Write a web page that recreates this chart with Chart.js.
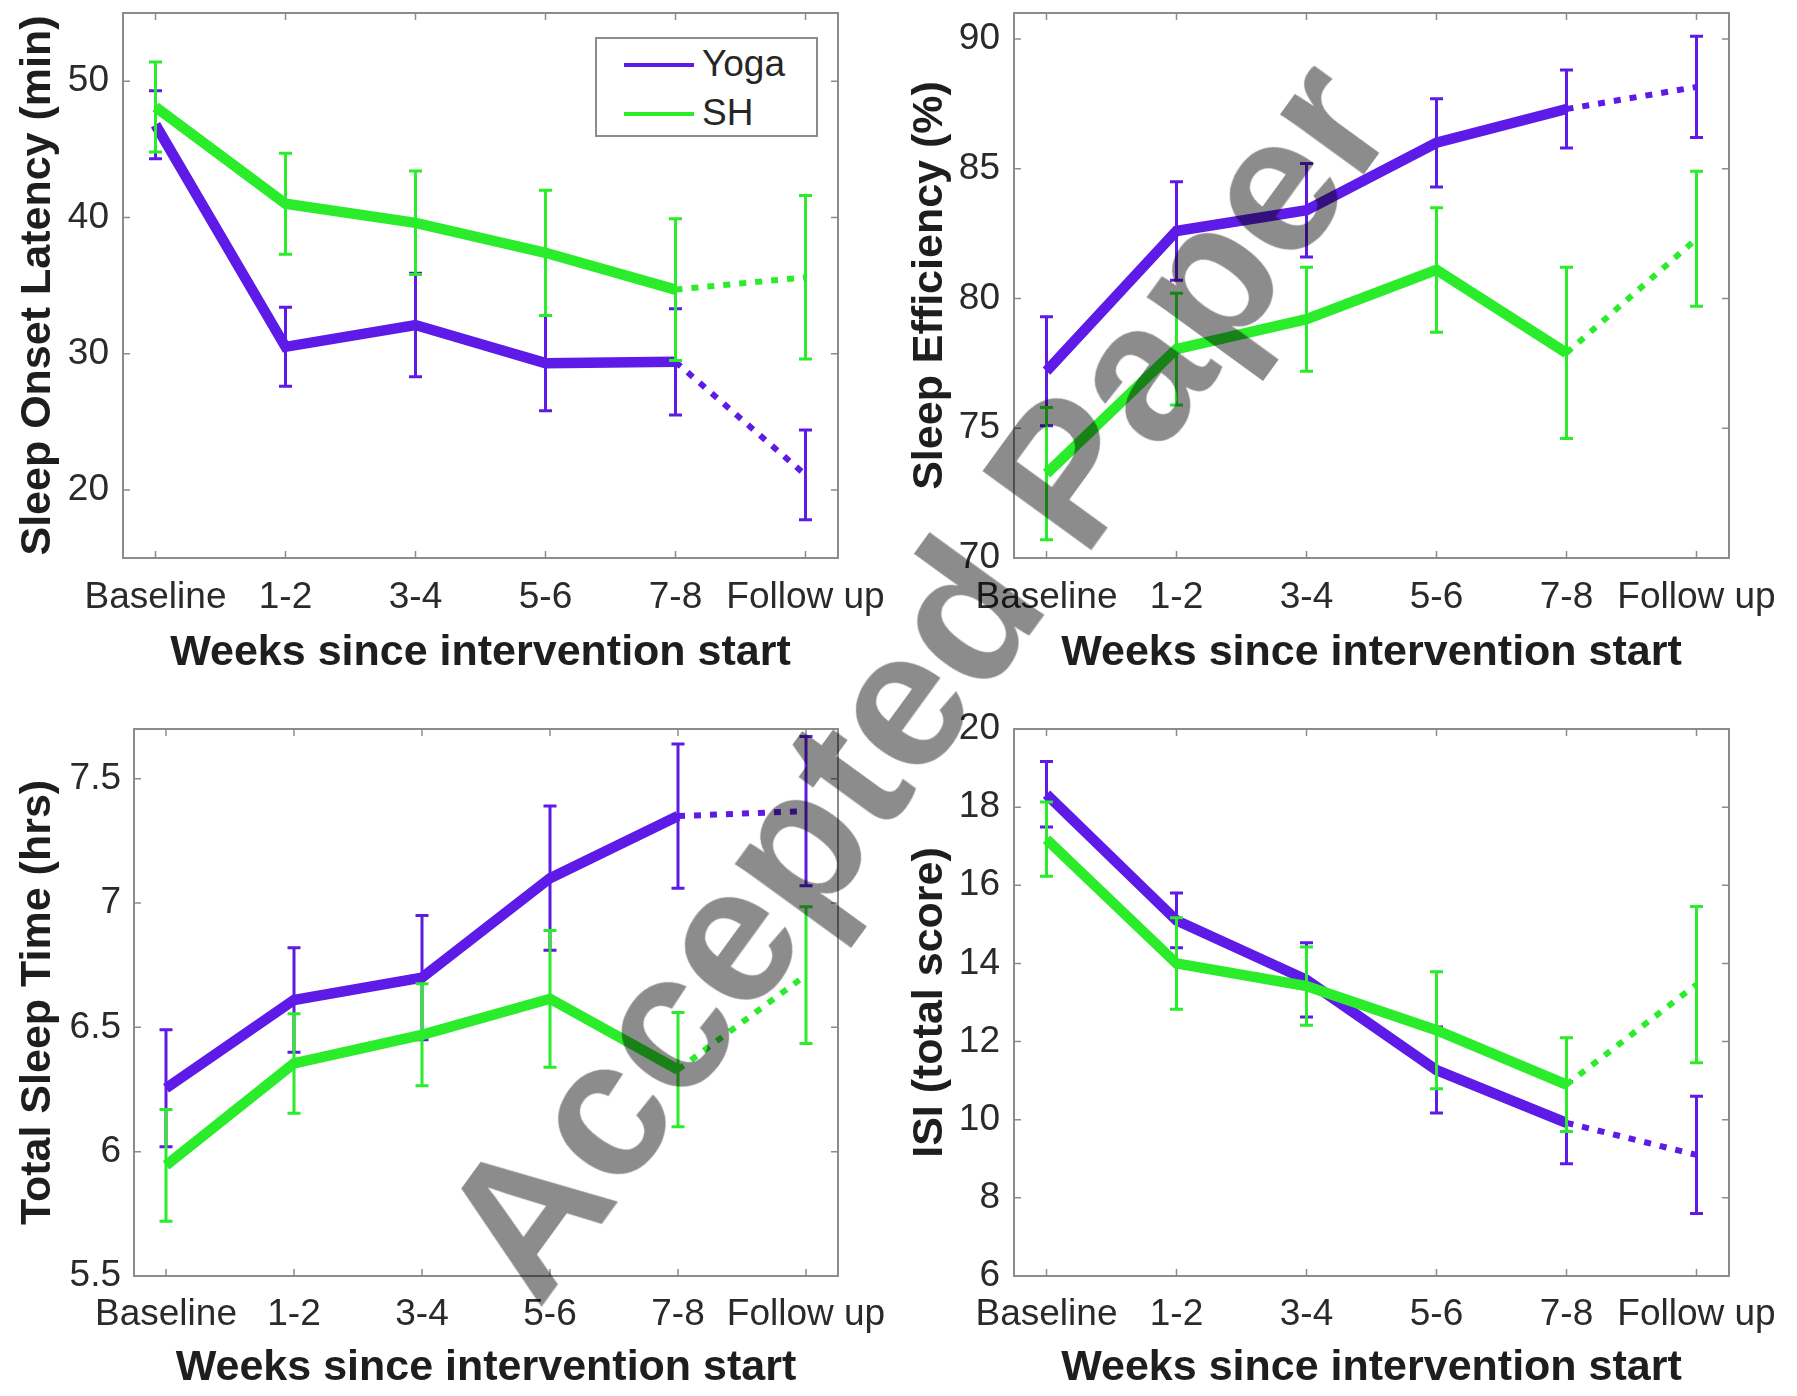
<!DOCTYPE html>
<html lang="en">
<head>
<meta charset="UTF-8" />
<title>Yoga vs SH sleep outcomes</title>
<script src="https://cdn.jsdelivr.net/npm/chart.js@4.4.1/dist/chart.umd.min.js"></script>
<style>
  html, body { margin: 0; padding: 0; background: #fff; }
  body {
    width: 1797px; height: 1396px; position: relative; overflow: hidden;
    font-family: "Liberation Sans", Arial, sans-serif;
  }
  canvas { position: absolute; }
  #legend {
    position: absolute; left: 595px; top: 37px; width: 219px; height: 96px;
    border: 2px solid #8c8c8c; background: #fff; z-index: 2;
  }
  #legend .swatch { position: absolute; left: 27px; width: 70px; height: 4px; }
  #legend .name {
    position: absolute; left: 105px; font-size: 37px; line-height: 37px; color: #262626;
  }
  #watermark {
    position: absolute; left: 915px; top: 678px; z-index: 3;
    transform: translate(-50%, -50%) rotate(-54deg);
    font: bold 194px/1 "Liberation Sans", Arial, sans-serif;
    color: rgba(0, 0, 0, 0.45); white-space: nowrap; pointer-events: none;
  }
</style>
</head>
<body>
<canvas id="sol" width="898" height="698" style="left:0;top:0"></canvas>
<canvas id="se" width="899" height="698" style="left:898px;top:0"></canvas>
<canvas id="tst" width="898" height="698" style="left:0;top:698px"></canvas>
<canvas id="isi" width="899" height="698" style="left:898px;top:698px"></canvas>
<div id="legend"></div>
<div id="watermark">Accepted Paper</div>

<script>
  // x categories (weeks since intervention start)
  const weekLabels = ['Baseline', '1-2', '3-4', '5-6', '7-8', 'Follow up'];
  const seriesNames = ['Yoga', 'SH'];
  const seriesColors = ['#5e1ae6', '#2bec2b'];

  // Sleep onset latency (min): mean and error
  const yogaSOL = [46.8, 30.5, 32.1, 29.3, 29.4, 21.1];
  const yogaSOLErr = [2.5, 2.9, 3.8, 3.5, 3.9, 3.3];
  const shSOL = [48.1, 41.0, 39.6, 37.4, 34.7, 35.6];
  const shSOLErr = [3.3, 3.7, 3.8, 4.6, 5.2, 6.0];
  const solTicks = [20, 30, 40, 50];

  // Sleep efficiency (%)
  const yogaSE = [77.2, 82.6, 83.4, 86.0, 87.3, 88.15];
  const yogaSEErr = [2.1, 1.9, 1.8, 1.7, 1.5, 1.95];
  const shSE = [73.25, 78.05, 79.2, 81.1, 77.9, 82.3];
  const shSEErr = [2.55, 2.15, 2.0, 2.4, 3.3, 2.6];
  const seTicks = [70, 75, 80, 85, 90];

  // Total sleep time (hrs)
  const yogaTST = [6.255, 6.61, 6.70, 7.10, 7.35, 7.37];
  const yogaTSTErr = [0.235, 0.21, 0.25, 0.29, 0.29, 0.3];
  const shTST = [5.945, 6.355, 6.47, 6.615, 6.33, 6.71];
  const shTSTErr = [0.225, 0.2, 0.205, 0.275, 0.23, 0.275];
  const tstTicks = [5.5, 6, 6.5, 7, 7.5];

  // ISI (total score)
  const yogaISI = [18.33, 15.1, 13.58, 11.27, 9.92, 9.1];
  const yogaISIErr = [0.84, 0.7, 0.95, 1.1, 1.05, 1.5];
  const shISI = [17.18, 14.0, 13.42, 12.29, 10.9, 13.46];
  const shISIErr = [0.95, 1.17, 1.0, 1.5, 1.2, 2.0];
  const isiTicks = [6, 8, 10, 12, 14, 16, 18, 20];

  Chart.defaults.font.family = '"Liberation Sans", Arial, sans-serif';
  Chart.defaults.color = '#262626';

  // vertical error bars with caps, drawn right after each line
  const errorBars = {
    id: 'errorBars',
    afterDatasetDraw(chart, args) {
      const ds = chart.data.datasets[args.index];
      if (!ds.errors) return;
      const { ctx, scales: { x, y } } = chart;
      ctx.save();
      ctx.strokeStyle = ds.borderColor;
      ctx.lineWidth = 3;
      ds.data.forEach((pt, i) => {
        const px = x.getPixelForValue(pt.x);
        const top = y.getPixelForValue(pt.y + ds.errors[i]);
        const bot = y.getPixelForValue(pt.y - ds.errors[i]);
        ctx.beginPath();
        ctx.moveTo(px, top); ctx.lineTo(px, bot);
        ctx.moveTo(px - 6.5, top); ctx.lineTo(px + 6.5, top);
        ctx.moveTo(px - 6.5, bot); ctx.lineTo(px + 6.5, bot);
        ctx.stroke();
      });
      ctx.restore();
    }
  };

  // matlab-like box with inward ticks on all four sides
  const axesBox = {
    id: 'axesBox',
    beforeDatasetsDraw(chart) {
      const { ctx, chartArea: a, scales: { x, y } } = chart;
      ctx.save();
      ctx.strokeStyle = '#8c8c8c';
      ctx.lineWidth = 2;
      ctx.strokeRect(a.left, a.top, a.right - a.left, a.bottom - a.top);
      ctx.lineWidth = 1.5;
      ctx.beginPath();
      x.ticks.forEach(t => {
        const px = x.getPixelForValue(t.value);
        ctx.moveTo(px, a.bottom); ctx.lineTo(px, a.bottom - 7);
        ctx.moveTo(px, a.top); ctx.lineTo(px, a.top + 7);
      });
      y.ticks.forEach(t => {
        const py = y.getPixelForValue(t.value);
        ctx.moveTo(a.left, py); ctx.lineTo(a.left + 7, py);
        ctx.moveTo(a.right, py); ctx.lineTo(a.right - 7, py);
      });
      ctx.stroke();
      ctx.restore();
    }
  };

  function series(name, color, values, errors, order) {
    return {
      label: name,
      data: values.map((v, i) => ({ x: i + 1, y: v })),
      errors: errors,
      borderColor: color,
      borderWidth: 10.5,
      pointRadius: 0,
      order: order,
      segment: {
        // follow-up segment is dotted
        borderDash: c => c.p0DataIndex === 4 ? [7, 9] : undefined,
        borderWidth: c => c.p0DataIndex === 4 ? 6 : undefined
      }
    };
  }

  function makePanel(id, lay, yTitle, yMin, yMax, yTicks, yoga, yogaErr, sh, shErr) {
    new Chart(document.getElementById(id), {
      type: 'line',
      data: {
        datasets: [
          series(seriesNames[0], seriesColors[0], yoga, yogaErr, 1),
          series(seriesNames[1], seriesColors[1], sh, shErr, 0)
        ]
      },
      options: {
        responsive: false,
        animation: false,
        layout: { padding: { left: 0, top: lay.top, right: lay.right, bottom: 0 } },
        plugins: { legend: { display: false }, tooltip: { enabled: false } },
        scales: {
          x: {
            type: 'linear', min: 0.75, max: 6.25,
            grid: { display: false, drawTicks: false }, border: { display: false },
            afterBuildTicks: s => { s.ticks = weekLabels.map((l, i) => ({ value: i + 1 })); },
            afterFit: s => { s.height = lay.xHeight; s.paddingLeft = 0; s.paddingRight = 0; },
            ticks: {
              autoSkip: false, maxRotation: 0, minRotation: 0, padding: lay.xTickPad,
              color: '#2a2a2a', font: { size: 37, lineHeight: 1 },
              callback: (v, i) => weekLabels[i]
            },
            title: {
              display: true, text: 'Weeks since intervention start', color: '#1e1e1e',
              font: { size: 43, weight: 'bold', lineHeight: 1 },
              padding: { top: 0, bottom: lay.xTitlePad }
            }
          },
          y: {
            min: yMin, max: yMax,
            grid: { display: false, drawTicks: false }, border: { display: false },
            afterBuildTicks: s => { s.ticks = yTicks.map(v => ({ value: v })); },
            afterFit: s => { s.width = lay.left; s.paddingTop = 0; s.paddingBottom = 0; },
            ticks: {
              padding: lay.yTickPad, color: '#2a2a2a', font: { size: 37, lineHeight: 1 },
              callback: v => String(v)
            },
            title: {
              display: true, text: yTitle, color: '#1e1e1e',
              font: { size: 43, weight: 'bold', lineHeight: 1 },
              padding: { top: lay.yTitlePad, bottom: 0 }
            }
          }
        }
      },
      plugins: [axesBox, errorBars]
    });
  }

  const topLeft = { left: 123, top: 13, right: 60, xHeight: 140, xTickPad: 21.5, xTitlePad: 23.5, yTickPad: 14, yTitlePad: 16.5 };
  const topRight = { left: 116, top: 13, right: 68, xHeight: 140, xTickPad: 21.5, xTitlePad: 23.5, yTickPad: 14, yTitlePad: 10.5 };
  const botLeft = { left: 134, top: 31, right: 60, xHeight: 120, xTickPad: 20.5, xTitlePad: 6.5, yTickPad: 13, yTitlePad: 17 };
  const botRight = { left: 116, top: 31, right: 68, xHeight: 120, xTickPad: 20.5, xTitlePad: 6.5, yTickPad: 14, yTitlePad: 10.5 };

  makePanel('sol', topLeft, 'Sleep Onset Latency (min)', 15, 55, solTicks, yogaSOL, yogaSOLErr, shSOL, shSOLErr);
  makePanel('se', topRight, 'Sleep Efficiency (%)', 70, 91, seTicks, yogaSE, yogaSEErr, shSE, shSEErr);
  makePanel('tst', botLeft, 'Total Sleep Time (hrs)', 5.5, 7.7, tstTicks, yogaTST, yogaTSTErr, shTST, shTSTErr);
  makePanel('isi', botRight, 'ISI (total score)', 6, 20, isiTicks, yogaISI, yogaISIErr, shISI, shISIErr);

  // legend box inside the first panel
  const legend = document.getElementById('legend');
  const rowCenters = [26, 75];
  seriesNames.forEach((name, i) => {
    const sw = document.createElement('div');
    sw.className = 'swatch';
    sw.style.background = seriesColors[i];
    sw.style.top = (rowCenters[i] - 2) + 'px';
    const txt = document.createElement('div');
    txt.className = 'name';
    txt.textContent = name;
    txt.style.top = (rowCenters[i] - 20) + 'px';
    legend.appendChild(sw);
    legend.appendChild(txt);
  });
</script>
</body>
</html>
